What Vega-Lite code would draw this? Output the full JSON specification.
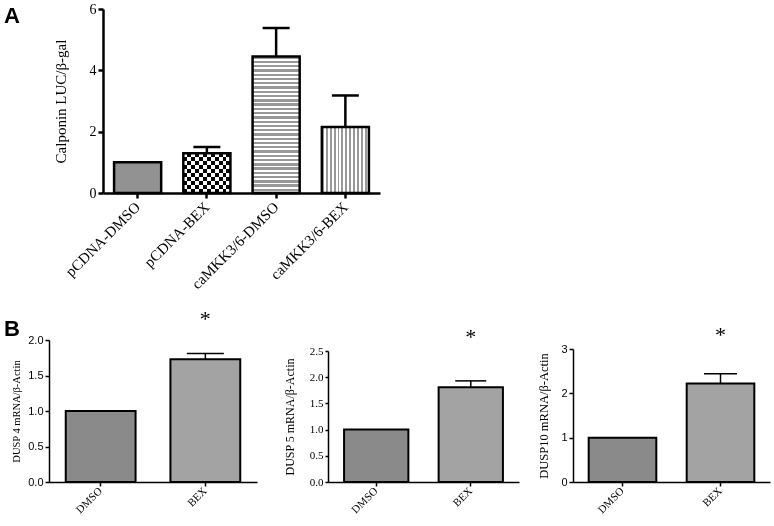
{
  "$schema": "https://vega.github.io/schema/vega-lite/v6.json",
  "padding": {"left": 4, "top": 2, "right": 2, "bottom": 2},
  "background": "white",
  "config": {
    "view": {"stroke": null},
    "axis": {"grid": false, "domainColor": "black", "tickColor": "black", "labelColor": "black", "titleColor": "black", "titleFontWeight": "normal"}
  },
  "datasets": {
    "a": [
      {"condition": "pCDNA-DMSO", "mean": 1.0, "upper": 1.0},
      {"condition": "pCDNA-BEX", "mean": 1.3, "upper": 1.5},
      {"condition": "caMKK3/6-DMSO", "mean": 4.45, "upper": 5.38},
      {"condition": "caMKK3/6-BEX", "mean": 2.15, "upper": 3.18}
    ],
    "b4": [
      {"treatment": "DMSO", "mean": 1.0, "upper": 1.0},
      {"treatment": "BEX", "mean": 1.73, "upper": 1.81}
    ],
    "b5": [
      {"treatment": "DMSO", "mean": 1.0, "upper": 1.0},
      {"treatment": "BEX", "mean": 1.81, "upper": 1.93}
    ],
    "b10": [
      {"treatment": "DMSO", "mean": 1.0, "upper": 1.0},
      {"treatment": "BEX", "mean": 2.22, "upper": 2.44}
    ]
  },
  "columns": 1,
  "align": "none",
  "spacing": 16,
  "concat": [
    {
      "width": 331,
      "height": 184,
      "data": {"name": "a"},
      "title": {"text": "A", "anchor": "start", "frame": "group", "font": "Liberation Sans", "fontSize": 22, "fontWeight": "bold", "color": "black", "baseline": "alphabetic", "offset": -29, "dx": -45, "dy": 14},
      "encoding": {
        "x": {
          "field": "condition", "type": "nominal", "sort": null,
          "scale": {"domain": ["pCDNA-DMSO", "pCDNA-BEX", "caMKK3/6-DMSO", "caMKK3/6-BEX"], "range": [54, 331], "paddingInner": 0.32, "paddingOuter": 0.16},
          "axis": {"title": null, "labelAngle": -45, "labelAlign": "right", "labelBaseline": "middle", "labelFont": "Liberation Serif", "labelFontSize": 15, "labelPadding": 6, "tickSize": 5, "tickWidth": 2.5, "domainWidth": 2.5}
        },
        "y": {
          "field": "mean", "type": "quantitative",
          "scale": {"domain": [0, 6], "nice": false},
          "axis": {"offset": -54, "title": "Calponin LUC/β-gal", "titleFont": "Liberation Serif", "titleFontSize": 15, "titlePadding": 21, "values": [0, 2, 4, 6], "labelFont": "Liberation Serif", "labelFontSize": 14, "labelPadding": 2, "tickSize": 5, "tickWidth": 2.5, "domainWidth": 2.5}
        }
      },
      "layer": [
        {"mark": {"type": "bar", "fill": "#929292", "strokeWidth": 0}},
        {
          "transform": [{"filter": "datum.condition === 'pCDNA-BEX'"}],
          "mark": {"type": "bar", "strokeWidth": 0, "fill": {"gradient": "linear", "x1": 0, "y1": 0, "x2": 1, "y2": 0, "stops": [
            {"offset": 0, "color": "black"}, {"offset": 0.0833, "color": "black"}, {"offset": 0.0833, "color": "white"}, {"offset": 0.1667, "color": "white"},
            {"offset": 0.1667, "color": "black"}, {"offset": 0.25, "color": "black"}, {"offset": 0.25, "color": "white"}, {"offset": 0.3333, "color": "white"},
            {"offset": 0.3333, "color": "black"}, {"offset": 0.4167, "color": "black"}, {"offset": 0.4167, "color": "white"}, {"offset": 0.5, "color": "white"},
            {"offset": 0.5, "color": "black"}, {"offset": 0.5833, "color": "black"}, {"offset": 0.5833, "color": "white"}, {"offset": 0.6667, "color": "white"},
            {"offset": 0.6667, "color": "black"}, {"offset": 0.75, "color": "black"}, {"offset": 0.75, "color": "white"}, {"offset": 0.8333, "color": "white"},
            {"offset": 0.8333, "color": "black"}, {"offset": 0.9167, "color": "black"}, {"offset": 0.9167, "color": "white"}, {"offset": 1, "color": "white"}
          ]}}
        },
        {
          "transform": [{"filter": "datum.condition === 'pCDNA-BEX'"}],
          "mark": {"type": "bar", "strokeWidth": 0, "blend": "difference", "fill": {"gradient": "linear", "x1": 0, "y1": 0, "x2": 0, "y2": 1, "stops": [
            {"offset": 0, "color": "white"}, {"offset": 0.1, "color": "white"}, {"offset": 0.1, "color": "black"}, {"offset": 0.2, "color": "black"},
            {"offset": 0.2, "color": "white"}, {"offset": 0.3, "color": "white"}, {"offset": 0.3, "color": "black"}, {"offset": 0.4, "color": "black"},
            {"offset": 0.4, "color": "white"}, {"offset": 0.5, "color": "white"}, {"offset": 0.5, "color": "black"}, {"offset": 0.6, "color": "black"},
            {"offset": 0.6, "color": "white"}, {"offset": 0.7, "color": "white"}, {"offset": 0.7, "color": "black"}, {"offset": 0.8, "color": "black"},
            {"offset": 0.8, "color": "white"}, {"offset": 0.9, "color": "white"}, {"offset": 0.9, "color": "black"}, {"offset": 1, "color": "black"}
          ]}}
        },
        {
          "transform": [{"filter": "datum.condition === 'caMKK3/6-DMSO'"}],
          "mark": {"type": "bar", "strokeWidth": 0, "fill": {"gradient": "linear", "x1": 0, "y1": 0, "x2": 0, "y2": 1, "stops": [
            {"offset": 0, "color": "#999999"}, {"offset": 0.0172, "color": "#999999"}, {"offset": 0.0172, "color": "white"}, {"offset": 0.03125, "color": "white"},
            {"offset": 0.03125, "color": "#999999"}, {"offset": 0.0485, "color": "#999999"}, {"offset": 0.0485, "color": "white"}, {"offset": 0.0625, "color": "white"},
            {"offset": 0.0625, "color": "#999999"}, {"offset": 0.0797, "color": "#999999"}, {"offset": 0.0797, "color": "white"}, {"offset": 0.09375, "color": "white"},
            {"offset": 0.09375, "color": "#999999"}, {"offset": 0.111, "color": "#999999"}, {"offset": 0.111, "color": "white"}, {"offset": 0.125, "color": "white"},
            {"offset": 0.125, "color": "#999999"}, {"offset": 0.1422, "color": "#999999"}, {"offset": 0.1422, "color": "white"}, {"offset": 0.15625, "color": "white"},
            {"offset": 0.15625, "color": "#999999"}, {"offset": 0.1735, "color": "#999999"}, {"offset": 0.1735, "color": "white"}, {"offset": 0.1875, "color": "white"},
            {"offset": 0.1875, "color": "#999999"}, {"offset": 0.2047, "color": "#999999"}, {"offset": 0.2047, "color": "white"}, {"offset": 0.21875, "color": "white"},
            {"offset": 0.21875, "color": "#999999"}, {"offset": 0.236, "color": "#999999"}, {"offset": 0.236, "color": "white"}, {"offset": 0.25, "color": "white"},
            {"offset": 0.25, "color": "#999999"}, {"offset": 0.2672, "color": "#999999"}, {"offset": 0.2672, "color": "white"}, {"offset": 0.28125, "color": "white"},
            {"offset": 0.28125, "color": "#999999"}, {"offset": 0.2985, "color": "#999999"}, {"offset": 0.2985, "color": "white"}, {"offset": 0.3125, "color": "white"},
            {"offset": 0.3125, "color": "#999999"}, {"offset": 0.3297, "color": "#999999"}, {"offset": 0.3297, "color": "white"}, {"offset": 0.34375, "color": "white"},
            {"offset": 0.34375, "color": "#999999"}, {"offset": 0.361, "color": "#999999"}, {"offset": 0.361, "color": "white"}, {"offset": 0.375, "color": "white"},
            {"offset": 0.375, "color": "#999999"}, {"offset": 0.3922, "color": "#999999"}, {"offset": 0.3922, "color": "white"}, {"offset": 0.40625, "color": "white"},
            {"offset": 0.40625, "color": "#999999"}, {"offset": 0.4235, "color": "#999999"}, {"offset": 0.4235, "color": "white"}, {"offset": 0.4375, "color": "white"},
            {"offset": 0.4375, "color": "#999999"}, {"offset": 0.4547, "color": "#999999"}, {"offset": 0.4547, "color": "white"}, {"offset": 0.46875, "color": "white"},
            {"offset": 0.46875, "color": "#999999"}, {"offset": 0.486, "color": "#999999"}, {"offset": 0.486, "color": "white"}, {"offset": 0.5, "color": "white"},
            {"offset": 0.5, "color": "#999999"}, {"offset": 0.5172, "color": "#999999"}, {"offset": 0.5172, "color": "white"}, {"offset": 0.53125, "color": "white"},
            {"offset": 0.53125, "color": "#999999"}, {"offset": 0.5485, "color": "#999999"}, {"offset": 0.5485, "color": "white"}, {"offset": 0.5625, "color": "white"},
            {"offset": 0.5625, "color": "#999999"}, {"offset": 0.5797, "color": "#999999"}, {"offset": 0.5797, "color": "white"}, {"offset": 0.59375, "color": "white"},
            {"offset": 0.59375, "color": "#999999"}, {"offset": 0.611, "color": "#999999"}, {"offset": 0.611, "color": "white"}, {"offset": 0.625, "color": "white"},
            {"offset": 0.625, "color": "#999999"}, {"offset": 0.6422, "color": "#999999"}, {"offset": 0.6422, "color": "white"}, {"offset": 0.65625, "color": "white"},
            {"offset": 0.65625, "color": "#999999"}, {"offset": 0.6735, "color": "#999999"}, {"offset": 0.6735, "color": "white"}, {"offset": 0.6875, "color": "white"},
            {"offset": 0.6875, "color": "#999999"}, {"offset": 0.7047, "color": "#999999"}, {"offset": 0.7047, "color": "white"}, {"offset": 0.71875, "color": "white"},
            {"offset": 0.71875, "color": "#999999"}, {"offset": 0.736, "color": "#999999"}, {"offset": 0.736, "color": "white"}, {"offset": 0.75, "color": "white"},
            {"offset": 0.75, "color": "#999999"}, {"offset": 0.7672, "color": "#999999"}, {"offset": 0.7672, "color": "white"}, {"offset": 0.78125, "color": "white"},
            {"offset": 0.78125, "color": "#999999"}, {"offset": 0.7985, "color": "#999999"}, {"offset": 0.7985, "color": "white"}, {"offset": 0.8125, "color": "white"},
            {"offset": 0.8125, "color": "#999999"}, {"offset": 0.8297, "color": "#999999"}, {"offset": 0.8297, "color": "white"}, {"offset": 0.84375, "color": "white"},
            {"offset": 0.84375, "color": "#999999"}, {"offset": 0.861, "color": "#999999"}, {"offset": 0.861, "color": "white"}, {"offset": 0.875, "color": "white"},
            {"offset": 0.875, "color": "#999999"}, {"offset": 0.8922, "color": "#999999"}, {"offset": 0.8922, "color": "white"}, {"offset": 0.90625, "color": "white"},
            {"offset": 0.90625, "color": "#999999"}, {"offset": 0.9235, "color": "#999999"}, {"offset": 0.9235, "color": "white"}, {"offset": 0.9375, "color": "white"},
            {"offset": 0.9375, "color": "#999999"}, {"offset": 0.9547, "color": "#999999"}, {"offset": 0.9547, "color": "white"}, {"offset": 0.96875, "color": "white"},
            {"offset": 0.96875, "color": "#999999"}, {"offset": 0.986, "color": "#999999"}, {"offset": 0.986, "color": "white"}, {"offset": 1, "color": "white"}
          ]}}
        },
        {
          "transform": [{"filter": "datum.condition === 'caMKK3/6-BEX'"}],
          "mark": {"type": "bar", "strokeWidth": 0, "fill": {"gradient": "linear", "x1": 0, "y1": 0, "x2": 1, "y2": 0, "stops": [
            {"offset": 0, "color": "#999999"}, {"offset": 0.0417, "color": "#999999"}, {"offset": 0.0417, "color": "white"}, {"offset": 0.0833, "color": "white"},
            {"offset": 0.0833, "color": "#999999"}, {"offset": 0.125, "color": "#999999"}, {"offset": 0.125, "color": "white"}, {"offset": 0.1667, "color": "white"},
            {"offset": 0.1667, "color": "#999999"}, {"offset": 0.2083, "color": "#999999"}, {"offset": 0.2083, "color": "white"}, {"offset": 0.25, "color": "white"},
            {"offset": 0.25, "color": "#999999"}, {"offset": 0.2917, "color": "#999999"}, {"offset": 0.2917, "color": "white"}, {"offset": 0.3333, "color": "white"},
            {"offset": 0.3333, "color": "#999999"}, {"offset": 0.375, "color": "#999999"}, {"offset": 0.375, "color": "white"}, {"offset": 0.4167, "color": "white"},
            {"offset": 0.4167, "color": "#999999"}, {"offset": 0.4583, "color": "#999999"}, {"offset": 0.4583, "color": "white"}, {"offset": 0.5, "color": "white"},
            {"offset": 0.5, "color": "#999999"}, {"offset": 0.5417, "color": "#999999"}, {"offset": 0.5417, "color": "white"}, {"offset": 0.5833, "color": "white"},
            {"offset": 0.5833, "color": "#999999"}, {"offset": 0.625, "color": "#999999"}, {"offset": 0.625, "color": "white"}, {"offset": 0.6667, "color": "white"},
            {"offset": 0.6667, "color": "#999999"}, {"offset": 0.7083, "color": "#999999"}, {"offset": 0.7083, "color": "white"}, {"offset": 0.75, "color": "white"},
            {"offset": 0.75, "color": "#999999"}, {"offset": 0.7917, "color": "#999999"}, {"offset": 0.7917, "color": "white"}, {"offset": 0.8333, "color": "white"},
            {"offset": 0.8333, "color": "#999999"}, {"offset": 0.875, "color": "#999999"}, {"offset": 0.875, "color": "white"}, {"offset": 0.9167, "color": "white"},
            {"offset": 0.9167, "color": "#999999"}, {"offset": 0.9583, "color": "#999999"}, {"offset": 0.9583, "color": "white"}, {"offset": 1, "color": "white"}
          ]}}
        },
        {"mark": {"type": "bar", "fillOpacity": 0, "stroke": "black", "strokeWidth": 2.5}},
        {
          "transform": [{"filter": "datum.upper > datum.mean"}],
          "mark": {"type": "rule", "color": "black", "strokeWidth": 2.5},
          "encoding": {"y2": {"field": "upper"}}
        },
        {
          "transform": [{"filter": "datum.upper > datum.mean"}],
          "mark": {"type": "tick", "orient": "horizontal", "color": "black", "opacity": 1, "size": 27, "thickness": 2.5},
          "encoding": {"y": {"field": "upper", "type": "quantitative", "scale": {"domain": [0, 6], "nice": false},
            "axis": {"offset": -54, "title": "Calponin LUC/β-gal", "titleFont": "Liberation Serif", "titleFontSize": 15, "titlePadding": 21, "values": [0, 2, 4, 6], "labelFont": "Liberation Serif", "labelFontSize": 14, "labelPadding": 2, "tickSize": 5, "tickWidth": 2.5, "domainWidth": 2.5}}}
        }
      ]
    },
    {
      "columns": 3,
      "align": "none",
      "bounds": "flush",
      "spacing": 54,
      "concat": [
        {
          "width": 225,
          "height": 142,
          "data": {"name": "b4"},
          "title": {"text": "B", "anchor": "start", "frame": "group", "font": "Liberation Sans", "fontSize": 22, "fontWeight": "bold", "color": "black", "baseline": "alphabetic", "offset": -50, "dx": -45},
          "encoding": {
            "x": {
              "field": "treatment", "type": "nominal", "sort": null,
              "scale": {"domain": ["DMSO", "BEX"], "range": [0, 208], "paddingInner": 0.333, "paddingOuter": 0.16},
              "axis": {"title": null, "labelAngle": -45, "labelAlign": "right", "labelBaseline": "middle", "labelFont": "Liberation Serif", "labelFontSize": 11, "labelPadding": 3, "tickSize": 4, "tickWidth": 1.5, "domainWidth": 1.5}
            },
            "y": {
              "field": "mean", "type": "quantitative",
              "scale": {"domain": [0, 2], "nice": false},
              "axis": {"title": "DUSP 4 mRNA/β-Actin", "titleFont": "Liberation Serif", "titleFontSize": 10.5, "titlePadding": 6, "values": [0, 0.5, 1, 1.5, 2], "format": ".1f", "labelFont": "Liberation Sans", "labelFontSize": 11, "labelPadding": 2, "tickSize": 4, "tickWidth": 1.5, "domainWidth": 1.5}
            }
          },
          "layer": [
            {"transform": [{"filter": "datum.treatment === 'DMSO'"}], "mark": {"type": "bar", "fill": "#8a8a8a", "stroke": "black", "strokeWidth": 2}},
            {"transform": [{"filter": "datum.treatment === 'BEX'"}], "mark": {"type": "bar", "fill": "#a3a3a3", "stroke": "black", "strokeWidth": 2}},
            {"transform": [{"filter": "datum.upper > datum.mean"}], "mark": {"type": "rule", "color": "black", "strokeWidth": 1.5}, "encoding": {"y2": {"field": "upper"}}},
            {"transform": [{"filter": "datum.upper > datum.mean"}], "mark": {"type": "tick", "orient": "horizontal", "color": "black", "opacity": 1, "size": 37, "thickness": 1.5},
             "encoding": {"y": {"field": "upper", "type": "quantitative", "scale": {"domain": [0, 2], "nice": false},
               "axis": {"title": "DUSP 4 mRNA/β-Actin", "titleFont": "Liberation Serif", "titleFontSize": 10.5, "titlePadding": 6, "values": [0, 0.5, 1, 1.5, 2], "format": ".1f", "labelFont": "Liberation Sans", "labelFontSize": 11, "labelPadding": 2, "tickSize": 4, "tickWidth": 1.5, "domainWidth": 1.5}}}},
            {"transform": [{"filter": "datum.treatment === 'BEX'"}], "mark": {"type": "text", "text": "*", "font": "Liberation Serif", "fontSize": 22, "baseline": "middle", "dy": -34, "color": "black"},
             "encoding": {"y": {"field": "upper", "type": "quantitative", "scale": {"domain": [0, 2], "nice": false},
               "axis": {"title": "DUSP 4 mRNA/β-Actin", "titleFont": "Liberation Serif", "titleFontSize": 10.5, "titlePadding": 6, "values": [0, 0.5, 1, 1.5, 2], "format": ".1f", "labelFont": "Liberation Sans", "labelFontSize": 11, "labelPadding": 2, "tickSize": 4, "tickWidth": 1.5, "domainWidth": 1.5}}}}
          ]
        },
        {
          "width": 191,
          "height": 142,
          "data": {"name": "b5"},
          "encoding": {
            "x": {
              "field": "treatment", "type": "nominal", "sort": null,
              "scale": {"domain": ["DMSO", "BEX"], "paddingInner": 0.32, "paddingOuter": 0.17},
              "axis": {"title": null, "labelAngle": -45, "labelAlign": "right", "labelBaseline": "middle", "labelFont": "Liberation Serif", "labelFontSize": 11, "labelPadding": 3, "tickSize": 4, "tickWidth": 1.5, "domainWidth": 1.5}
            },
            "y": {
              "field": "mean", "type": "quantitative",
              "scale": {"domain": [0, 2.5], "nice": false, "range": [142, 11]},
              "axis": {"title": "DUSP 5 mRNA/β-Actin", "titleFont": "Liberation Serif", "titleFontSize": 12, "titlePadding": 13, "values": [0, 0.5, 1, 1.5, 2, 2.5], "format": ".1f", "labelFont": "Liberation Serif", "labelFontSize": 11, "labelPadding": 2, "tickSize": 3, "tickWidth": 1.5, "domainWidth": 1.5}
            }
          },
          "layer": [
            {"transform": [{"filter": "datum.treatment === 'DMSO'"}], "mark": {"type": "bar", "fill": "#8a8a8a", "stroke": "black", "strokeWidth": 2}},
            {"transform": [{"filter": "datum.treatment === 'BEX'"}], "mark": {"type": "bar", "fill": "#a3a3a3", "stroke": "black", "strokeWidth": 2}},
            {"transform": [{"filter": "datum.upper > datum.mean"}], "mark": {"type": "rule", "color": "black", "strokeWidth": 1.5}, "encoding": {"y2": {"field": "upper"}}},
            {"transform": [{"filter": "datum.upper > datum.mean"}], "mark": {"type": "tick", "orient": "horizontal", "color": "black", "opacity": 1, "size": 31, "thickness": 1.5},
             "encoding": {"y": {"field": "upper", "type": "quantitative", "scale": {"domain": [0, 2.5], "nice": false, "range": [142, 11]},
               "axis": {"title": "DUSP 5 mRNA/β-Actin", "titleFont": "Liberation Serif", "titleFontSize": 12, "titlePadding": 13, "values": [0, 0.5, 1, 1.5, 2, 2.5], "format": ".1f", "labelFont": "Liberation Serif", "labelFontSize": 11, "labelPadding": 2, "tickSize": 3, "tickWidth": 1.5, "domainWidth": 1.5}}}},
            {"transform": [{"filter": "datum.treatment === 'BEX'"}], "mark": {"type": "text", "text": "*", "font": "Liberation Serif", "fontSize": 22, "baseline": "middle", "dy": -44, "color": "black"},
             "encoding": {"y": {"field": "upper", "type": "quantitative", "scale": {"domain": [0, 2.5], "nice": false, "range": [142, 11]},
               "axis": {"title": "DUSP 5 mRNA/β-Actin", "titleFont": "Liberation Serif", "titleFontSize": 12, "titlePadding": 13, "values": [0, 0.5, 1, 1.5, 2, 2.5], "format": ".1f", "labelFont": "Liberation Serif", "labelFontSize": 11, "labelPadding": 2, "tickSize": 3, "tickWidth": 1.5, "domainWidth": 1.5}}}}
          ]
        },
        {
          "width": 197,
          "height": 142,
          "data": {"name": "b10"},
          "encoding": {
            "x": {
              "field": "treatment", "type": "nominal", "sort": null,
              "scale": {"domain": ["DMSO", "BEX"], "paddingInner": 0.31, "paddingOuter": 0.16},
              "axis": {"title": null, "labelAngle": -45, "labelAlign": "right", "labelBaseline": "middle", "labelFont": "Liberation Serif", "labelFontSize": 11, "labelPadding": 3, "tickSize": 4, "tickWidth": 1.5, "domainWidth": 1.5}
            },
            "y": {
              "field": "mean", "type": "quantitative",
              "scale": {"domain": [0, 3], "nice": false, "range": [142, 9]},
              "axis": {"title": "DUSP10 mRNA/β-Actin", "titleFont": "Liberation Serif", "titleFontSize": 12.5, "titlePadding": 10, "values": [0, 1, 2, 3], "labelFont": "Liberation Sans", "labelFontSize": 11, "labelPadding": 2, "tickSize": 4, "tickWidth": 1.5, "domainWidth": 1.5}
            }
          },
          "layer": [
            {"transform": [{"filter": "datum.treatment === 'DMSO'"}], "mark": {"type": "bar", "fill": "#8a8a8a", "stroke": "black", "strokeWidth": 2}},
            {"transform": [{"filter": "datum.treatment === 'BEX'"}], "mark": {"type": "bar", "fill": "#a3a3a3", "stroke": "black", "strokeWidth": 2}},
            {"transform": [{"filter": "datum.upper > datum.mean"}], "mark": {"type": "rule", "color": "black", "strokeWidth": 1.5}, "encoding": {"y2": {"field": "upper"}}},
            {"transform": [{"filter": "datum.upper > datum.mean"}], "mark": {"type": "tick", "orient": "horizontal", "color": "black", "opacity": 1, "size": 33, "thickness": 1.5},
             "encoding": {"y": {"field": "upper", "type": "quantitative", "scale": {"domain": [0, 3], "nice": false, "range": [142, 9]},
               "axis": {"title": "DUSP10 mRNA/β-Actin", "titleFont": "Liberation Serif", "titleFontSize": 12.5, "titlePadding": 10, "values": [0, 1, 2, 3], "labelFont": "Liberation Sans", "labelFontSize": 11, "labelPadding": 2, "tickSize": 4, "tickWidth": 1.5, "domainWidth": 1.5}}}},
            {"transform": [{"filter": "datum.treatment === 'BEX'"}], "mark": {"type": "text", "text": "*", "font": "Liberation Serif", "fontSize": 22, "baseline": "middle", "dy": -39, "color": "black"},
             "encoding": {"y": {"field": "upper", "type": "quantitative", "scale": {"domain": [0, 3], "nice": false, "range": [142, 9]},
               "axis": {"title": "DUSP10 mRNA/β-Actin", "titleFont": "Liberation Serif", "titleFontSize": 12.5, "titlePadding": 10, "values": [0, 1, 2, 3], "labelFont": "Liberation Sans", "labelFontSize": 11, "labelPadding": 2, "tickSize": 4, "tickWidth": 1.5, "domainWidth": 1.5}}}}
          ]
        }
      ]
    }
  ]
}
